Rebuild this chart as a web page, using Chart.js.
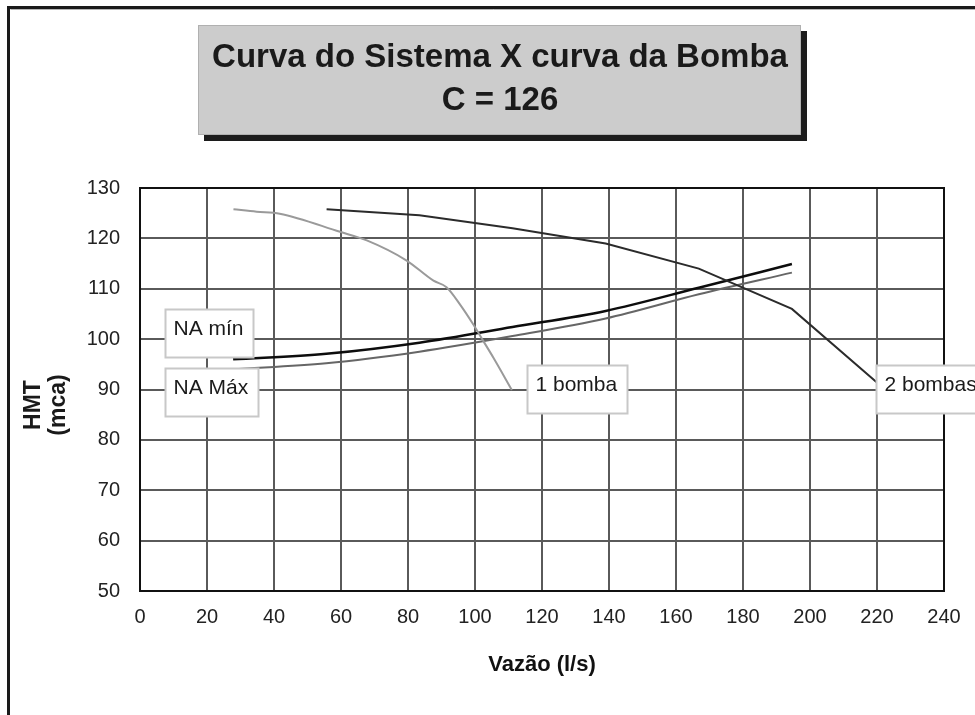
<!DOCTYPE html>
<html>
<head>
<meta charset="utf-8">
<script src="https://cdn.jsdelivr.net/npm/chart.js@4.4.1/dist/chart.umd.min.js"></script>
<style>
  html, body { margin: 0; padding: 0; background: #fff; }
  #wrap { position: relative; width: 975px; height: 715px; }
</style>
</head>
<body>
<div id="wrap"><canvas id="curveChart" width="975" height="715"></canvas></div>
<script>
// Vazão (l/s) -> HMT (mca)
const qUmaBomba = [27.9, 34.8, 41.7, 59.7, 67.7, 79.6, 87.6, 91.5, 95.5, 99.5, 102.5, 105.5, 111.0];
const hUmaBomba = [125.8, 125.3, 124.9, 121.3, 119.6, 115.6, 111.6, 110.3, 106.9, 102.9, 99.6, 96.3, 89.9];

const qDuasBombas = [55.7, 83.4, 111.2, 139.0, 166.8, 194.6, 222.4];
const hDuasBombas = [125.8, 124.6, 122.0, 119.0, 114.0, 106.0, 90.0];

const qSistema = [27.8, 55.6, 83.4, 111.2, 139.0, 166.8, 194.6];
const hNaMin = [96.0, 97.1, 99.3, 102.4, 105.6, 110.2, 114.9];
const hNaMax = [94.0, 95.2, 97.5, 100.6, 104.1, 108.9, 113.2];

const xTicks = [0, 20, 40, 60, 80, 100, 120, 140, 160, 180, 200, 220, 240];
const yTicks = [50, 60, 70, 80, 90, 100, 110, 120, 130];

// label boxes, anchored (top-left) in data units
const curveLabels = [
  { text: 'NA mín', x: 7.5, y: 106.0 },
  { text: 'NA Máx', x: 7.5, y: 94.3 },
  { text: '1 bomba', x: 115.4, y: 94.9 },
  { text: '2 bombas', x: 219.7, y: 94.9 }
];

const FONT = "'Liberation Sans', Arial, Helvetica, sans-serif";
Chart.defaults.font.family = FONT;

const toPoints = (xs, ys) => xs.map((x, i) => ({ x: x, y: ys[i] }));

const decorations = {
  id: 'decorations',
  beforeDraw(chart) {
    const ctx = chart.ctx;
    ctx.save();
    // outer frame (runs off the right and bottom edges)
    ctx.strokeStyle = '#1a1a1a';
    ctx.lineWidth = 3;
    ctx.strokeRect(8.5, 7.5, 1200, 1200);
    ctx.strokeStyle = '#b5b5b5';
    ctx.lineWidth = 1;
    ctx.beginPath();
    ctx.moveTo(10.5, 9.5); ctx.lineTo(1000, 9.5);
    ctx.stroke();

    // title box with shadow
    ctx.fillStyle = '#1c1c1c';
    ctx.fillRect(204, 31, 603, 110);
    ctx.fillStyle = '#cccccc';
    ctx.fillRect(198, 25, 603, 110);
    ctx.strokeStyle = '#b0b0b0';
    ctx.strokeRect(198.5, 25.5, 602, 109);
    ctx.fillStyle = '#1a1a1a';
    ctx.font = 'bold 33px ' + FONT;
    ctx.textAlign = 'center';
    ctx.textBaseline = 'middle';
    ctx.fillText('Curva do Sistema X curva da Bomba', 500, 58);
    ctx.fillText('C = 126', 500, 101);

    // y axis title, two rotated lines
    ctx.font = 'bold 23px ' + FONT;
    [['HMT', 34], ['(mca)', 59]].forEach(([t, px]) => {
      ctx.save();
      ctx.translate(px, 405);
      ctx.rotate(-Math.PI / 2);
      ctx.fillText(t, 0, 0);
      ctx.restore();
    });
    ctx.restore();
  },
  afterDatasetsDraw(chart) {
    const { ctx, chartArea: a, scales } = chart;
    ctx.save();
    ctx.strokeStyle = '#111';
    ctx.lineWidth = 2;
    ctx.strokeRect(a.left, a.top, a.right - a.left, a.bottom - a.top);

    ctx.font = '21px ' + FONT;
    ctx.textAlign = 'left';
    ctx.textBaseline = 'middle';
    curveLabels.forEach(l => {
      const left = Math.round(scales.x.getPixelForValue(l.x)) + 0.5;
      const top = Math.round(scales.y.getPixelForValue(l.y)) + 0.5;
      const w = Math.round(ctx.measureText(l.text).width) + 18;
      const h = 48;
      ctx.fillStyle = '#fff';
      ctx.fillRect(left, top, w, h);
      ctx.strokeStyle = '#c8c8c8';
      ctx.lineWidth = 2;
      ctx.strokeRect(left, top, w, h);
      ctx.fillStyle = '#1a1a1a';
      ctx.fillText(l.text, left + 8, top + 20);
    });
    ctx.restore();
  }
};

new Chart(document.getElementById('curveChart').getContext('2d'), {
  type: 'scatter',
  data: {
    datasets: [
      {
        label: '1 bomba',
        data: toPoints(qUmaBomba, hUmaBomba),
        showLine: true,
        borderColor: '#9a9a9a',
        borderWidth: 2,
        cubicInterpolationMode: 'monotone',
        pointRadius: 0
      },
      {
        label: '2 bombas',
        data: toPoints(qDuasBombas, hDuasBombas),
        showLine: true,
        borderColor: '#2b2b2b',
        borderWidth: 2,
        tension: 0,
        pointRadius: 0
      },
      {
        label: 'NA Máx',
        data: toPoints(qSistema, hNaMax),
        showLine: true,
        borderColor: '#666',
        borderWidth: 2,
        cubicInterpolationMode: 'monotone',
        pointRadius: 0
      },
      {
        label: 'NA mín',
        data: toPoints(qSistema, hNaMin),
        showLine: true,
        borderColor: '#0d0d0d',
        borderWidth: 2.5,
        cubicInterpolationMode: 'monotone',
        pointRadius: 0
      }
    ]
  },
  options: {
    responsive: false,
    animation: false,
    layout: { padding: { left: 10, top: 188, right: 31, bottom: 0 } },
    plugins: {
      legend: { display: false },
      tooltip: { enabled: false }
    },
    scales: {
      x: {
        min: 0,
        max: 240,
        afterBuildTicks: s => { s.ticks = xTicks.map(v => ({ value: v })); },
        afterFit: s => { s.height = 124; },
        ticks: { color: '#222', font: { size: 20 }, padding: 14, maxRotation: 0 },
        grid: { color: '#5a5a5a', lineWidth: 2, drawTicks: false },
        border: { color: '#111', width: 2 },
        title: {
          display: true,
          text: 'Vazão (l/s)',
          color: '#111',
          font: { size: 22, weight: 'bold' },
          padding: { bottom: 37 }
        }
      },
      y: {
        min: 50,
        max: 130,
        afterBuildTicks: s => { s.ticks = yTicks.map(v => ({ value: v })); },
        afterFit: s => { s.width = 130; },
        ticks: { color: '#222', font: { size: 20 }, padding: 20 },
        grid: { color: '#5a5a5a', lineWidth: 2, drawTicks: false },
        border: { color: '#111', width: 2 }
      }
    }
  },
  plugins: [decorations]
});
</script>
</body>
</html>
